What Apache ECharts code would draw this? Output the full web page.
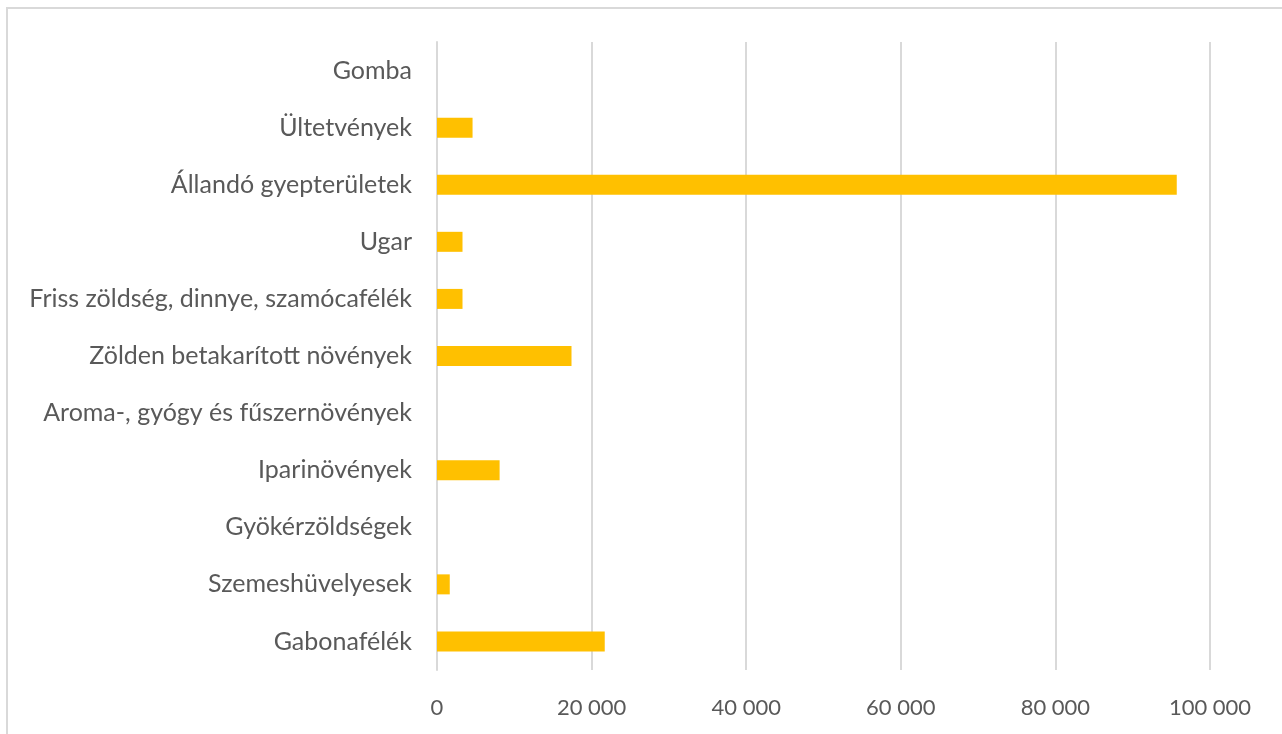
<!DOCTYPE html>
<html>
<head>
<meta charset="utf-8">
<script src="https://cdn.jsdelivr.net/npm/echarts@6/dist/echarts.min.js"></script>
<style>
html,body{margin:0;padding:0;background:#fff;}
#c{width:1282px;height:734px;}
</style>
</head>
<body>
<div id="c"></div>
<script>
const categories = [
  "Gabonafélék",
  "Szemeshüvelyesek",
  "Gyökérzöldségek",
  "Iparinövények",
  "Aroma-, gyógy és fűszernövények",
  "Zölden betakarított növények",
  "Friss zöldség, dinnye, szamócafélék",
  "Ugar",
  "Állandó gyepterületek",
  "Ültetvények",
  "Gomba"
];
const values = [21700, 1650, 0, 8100, 0, 17400, 3300, 3300, 95700, 4600, 0];
const xTicks = [0, 20000, 40000, 60000, 80000, 100000];

const chart = echarts.init(document.getElementById('c'));
const fmt = v => String(v).replace(/\B(?=(\d{3})+(?!\d))/g, ' ');
chart.setOption({
  animation: false,
  graphic: [{
    type: 'rect',
    shape: {x: 7, y: 8, width: 1400, height: 900},
    style: {fill: 'none', stroke: '#d9d9d9', lineWidth: 2},
    silent: true
  }],
  grid: {left: 437, right: 72, top: 42, bottom: 64, containLabel: false},
  xAxis: {
    type: 'value',
    min: xTicks[0],
    max: xTicks[xTicks.length - 1],
    interval: 20000,
    axisLine: {show: false},
    axisTick: {show: false},
    splitLine: {lineStyle: {color: '#d9d9d9', width: 2}},
    axisLabel: {
      formatter: fmt,
      color: '#595959',
      fontSize: 22,
      fontFamily: 'Lato',
      margin: 27
    }
  },
  yAxis: {
    type: 'category',
    data: categories,
    axisLine: {show: true, lineStyle: {color: '#d9d9d9', width: 2}},
    axisTick: {show: false},
    axisLabel: {
      color: '#595959',
      fontSize: 25,
      fontFamily: 'Lato',
      margin: 25
    }
  },
  series: [{
    type: 'bar',
    data: values,
    barWidth: 20,
    itemStyle: {color: '#ffc000'}
  }]
});
</script>
</body>
</html>
